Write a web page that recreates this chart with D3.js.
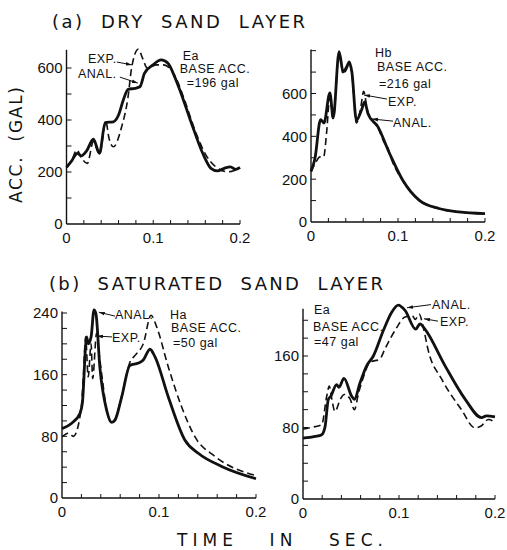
<!DOCTYPE html>
<html><head><meta charset="utf-8">
<script src="https://cdn.jsdelivr.net/npm/d3@7/dist/d3.min.js"></script>
<style>body{margin:0;background:#fff}svg{display:block}</style>
</head><body>
<svg id="c" width="507" height="550"></svg>
<script>
// ---- data (time s, acceleration gal) ----
const dryEaAnal = [[0,218],[0.006,243],[0.0125,272],[0.017,262],[0.023,280],[0.031,326],[0.038,272],[0.0446,390],[0.054,393],[0.06,419],[0.0655,477],[0.071,518],[0.079,522],[0.0846,528],[0.09,580],[0.0998,612],[0.109,631],[0.117,618],[0.1246,567],[0.132,503],[0.1455,374],[0.157,272],[0.1665,214],[0.174,204],[0.1817,214],[0.189,220],[0.195,210],[0.2,218]];
const dryEaExp  = [[0,218],[0.006,245],[0.012,285],[0.017,255],[0.024,233],[0.031,317],[0.038,268],[0.0454,393],[0.049,330],[0.054,297],[0.0636,374],[0.071,490],[0.075,599],[0.0827,672],[0.088,635],[0.093,600],[0.1037,612],[0.112,612],[0.1265,560],[0.136,477],[0.1494,349],[0.1608,265],[0.172,220],[0.1855,201],[0.193,205],[0.2,215]];
const dryHbAnal = [[0,236],[0.0046,298],[0.011,478],[0.0149,462],[0.0217,603],[0.0255,486],[0.0323,795],[0.0369,701],[0.041,724],[0.044,748],[0.047,700],[0.0522,475],[0.058,522],[0.0617,561],[0.0655,506],[0.077,444],[0.0903,320],[0.1055,195],[0.1246,101],[0.147,63],[0.17,47],[0.2,39]];
const dryHbExp  = [[0,236],[0.005,275],[0.0103,304],[0.0145,304],[0.018,420],[0.0217,590],[0.0255,480],[0.0323,790],[0.037,690],[0.041,715],[0.044,740],[0.047,690],[0.0522,462],[0.057,530],[0.0605,610],[0.065,520],[0.077,440],[0.085,365],[0.088,352],[0.0903,320],[0.1055,192],[0.1246,100],[0.147,62],[0.17,46],[0.2,38]];
const satHaAnal = [[0,90],[0.01,97],[0.0186,110],[0.021,123],[0.0254,209],[0.027,200],[0.03,209],[0.033,244],[0.035,239],[0.039,170],[0.046,114],[0.0512,98],[0.0546,101],[0.0615,131],[0.07,172],[0.0787,175],[0.0838,179],[0.0907,193],[0.0959,183],[0.1096,131],[0.1268,75],[0.1405,58],[0.1646,41],[0.2,25]];
const satHaExp  = [[0,79.5],[0.007,84],[0.0117,80],[0.0196,114],[0.022,157],[0.0244,209],[0.027,157],[0.03,200],[0.0316,155],[0.0357,214],[0.038,190],[0.042,150],[0.046,114],[0.0512,98],[0.0546,102],[0.0615,132],[0.07,176],[0.0753,185],[0.0838,200],[0.0918,237],[0.0976,222],[0.1096,170],[0.1234,118],[0.137,79.5],[0.1577,54],[0.2,29]];
const satEaAnal = [[0,68],[0.0125,70],[0.0195,72],[0.023,81],[0.0264,111.5],[0.029,115],[0.035,128],[0.0375,125],[0.0427,135],[0.0507,115],[0.0535,111.5],[0.0594,130],[0.0663,149],[0.0733,160],[0.0837,188.5],[0.0924,209],[0.0993,217],[0.1063,211],[0.1174,190],[0.1219,196],[0.127,190],[0.148,149],[0.169,111.5],[0.186,91],[0.191,93],[0.2,92]];
const satEaExp  = [[0,78],[0.0125,81],[0.0195,83],[0.0247,115],[0.0274,126.5],[0.03,112],[0.0333,98],[0.039,112],[0.043,117],[0.049,112],[0.0535,100],[0.058,119],[0.0628,136],[0.0698,153],[0.08,156.6],[0.0854,168],[0.0958,188.5],[0.1063,203.6],[0.1138,205],[0.117,201],[0.121,207],[0.1253,192],[0.1305,166],[0.1445,134],[0.165,100],[0.179,79.6],[0.186,82],[0.193,89],[0.2,86]];

const xTickLabels = ["0","0.1","0.2"];
const yLabelsDry = [0,200,400,600];
const yLabelsHa = [0,80,160,240];
const yLabelsEa = [0,80,160];

// ---- panels (layout) ----
const panels = [
  {anal:dryEaAnal, exp:dryEaExp, xr:[66.5,240], yd:[0,600], yr:[224,68], top:670, minor:100, labels:yLabelsDry,
   notes:[{t:0.0247,v:619,s:"EXP."},{t:0.0132,v:562,s:"ANAL."},{t:0.134,v:631,s:"Ea"},{t:0.1305,v:581,s:"BASE ACC."},{t:0.1385,v:527,s:"=196 gal"}],
   ptr:[[0.058,623,0.0753,612],[0.0615,565,0.0822,542]]},
  {anal:dryHbAnal, exp:dryHbExp, xr:[311,485], yd:[0,600], yr:[222,93.5], top:805, minor:100, labels:yLabelsDry,
   notes:[{t:0.0736,v:770,s:"Hb"},{t:0.0759,v:705,s:"BASE ACC."},{t:0.0782,v:626,s:"=216 gal"},{t:0.0885,v:542,s:"EXP."},{t:0.0943,v:443,s:"ANAL."}],
   ptr:[[0.0874,574,0.0609,593],[0.0943,471,0.0701,481]]},
  {anal:satHaAnal, exp:satHaExp, xr:[62,256], yd:[0,240], yr:[498,313], top:242, minor:20, labels:yLabelsHa,
   notes:[{t:0.0546,v:232,s:"ANAL."},{t:0.0515,v:202,s:"EXP."},{t:0.1113,v:232,s:"Ha"},{t:0.1124,v:215,s:"BASE ACC."},{t:0.1144,v:196,s:"=50 gal"}],
   ptr:[[0.0546,236,0.038,241],[0.0515,209,0.036,210]]},
  {anal:satEaAnal, exp:satEaExp, xr:[303,495], yd:[0,160], yr:[499,356], top:213, minor:20, labels:yLabelsEa,
   notes:[{t:0.0115,v:207,s:"Ea"},{t:0.0104,v:188,s:"BASE ACC."},{t:0.0115,v:171,s:"=47 gal"},{t:0.1344,v:213,s:"ANAL."},{t:0.1427,v:194,s:"EXP."}],
   ptr:[[0.1333,217.5,0.1083,214],[0.1406,199,0.126,201.7]]}
];

const svg = d3.select("#c");
const FONT = "'Liberation Sans', Arial, sans-serif";
const TFONT = "'DejaVu Sans', sans-serif";

svg.append("defs").append("marker").attr("id","ah").attr("viewBox","0 0 10 10")
  .attr("refX",10).attr("refY",5).attr("markerWidth",6).attr("markerHeight",6).attr("orient","auto")
  .append("path").attr("d","M0,2 L10,5 L0,8 z").attr("fill","#111");

panels.forEach(p => {
  const x = d3.scaleLinear().domain([0,0.2]).range(p.xr);
  const y = d3.scaleLinear().domain(p.yd).range(p.yr);
  const g = svg.append("g");
  const x0 = x(0), y0 = y(0);
  g.append("line").attr("x1",x0).attr("x2",x0).attr("y1",y0).attr("y2",y(p.top)).attr("stroke","#111").attr("stroke-width",1.4);
  g.append("line").attr("x1",x0).attr("x2",x(0.2)).attr("y1",y0).attr("y2",y0).attr("stroke","#111").attr("stroke-width",1.4);
  d3.range(p.minor, p.top, p.minor).forEach(v => {
    g.append("line").attr("x1",x0).attr("x2",x0+5).attr("y1",y(v)).attr("y2",y(v)).attr("stroke","#111").attr("stroke-width",1);
  });
  d3.range(1,11).forEach(i => {
    const t = i*0.02;
    g.append("line").attr("x1",x(t)).attr("x2",x(t)).attr("y1",y0).attr("y2",y0-4).attr("stroke","#111").attr("stroke-width",1);
  });
  p.labels.forEach(v => {
    g.append("text").attr("x",x0-4).attr("y",y(v)).attr("dy","0.36em").attr("text-anchor","end")
      .attr("font-family",FONT).attr("font-size",15).attr("fill","#111").text(v);
  });
  xTickLabels.forEach(s => {
    g.append("text").attr("x",x(+s)).attr("y",y0+19).attr("text-anchor","middle")
      .attr("font-family",FONT).attr("font-size",15).attr("fill","#111").text(s);
  });
  const line = d3.line().x(d=>x(d[0])).y(d=>y(d[1])).curve(d3.curveMonotoneX);
  g.append("path").attr("d",line(p.exp)).attr("fill","none").attr("stroke","#111").attr("stroke-width",1.6).attr("stroke-dasharray","7,4");
  g.append("path").attr("d",line(p.anal)).attr("fill","none").attr("stroke","#111").attr("stroke-width",2.8).attr("stroke-linejoin","round");
  p.notes.forEach(n => {
    g.append("text").attr("x",x(n.t)).attr("y",y(n.v)).attr("font-family",FONT).attr("font-size",12.5)
      .attr("letter-spacing",0.5).attr("fill","#111").text(n.s);
  });
  p.ptr.forEach(q => {
    g.append("line").attr("x1",x(q[0])).attr("y1",y(q[1])).attr("x2",x(q[2])).attr("y2",y(q[3]))
      .attr("stroke","#111").attr("stroke-width",1).attr("marker-end","url(#ah)");
  });
});

function spaced(txt, x0, w, yb, size){
  svg.append("text").attr("x",x0).attr("y",yb).attr("font-family",TFONT).attr("font-size",size)
    .attr("fill","#111").attr("textLength",w).attr("lengthAdjust","spacing")
    .style("white-space","pre").text(txt);
}
spaced("(a)  DRY  SAND  LAYER", 52, 253, 28, 18);
spaced("(b)  SATURATED  SAND  LAYER", 49, 334, 290, 18);
spaced("TIME   IN   SEC.", 177, 206, 546, 17);
svg.append("text").attr("transform","translate(22,203) rotate(-90)").attr("font-family",TFONT)
  .attr("font-size",17).attr("fill","#111").attr("textLength",116).attr("lengthAdjust","spacing")
  .style("white-space","pre").text("ACC.  (GAL)");
</script>
</body></html>
